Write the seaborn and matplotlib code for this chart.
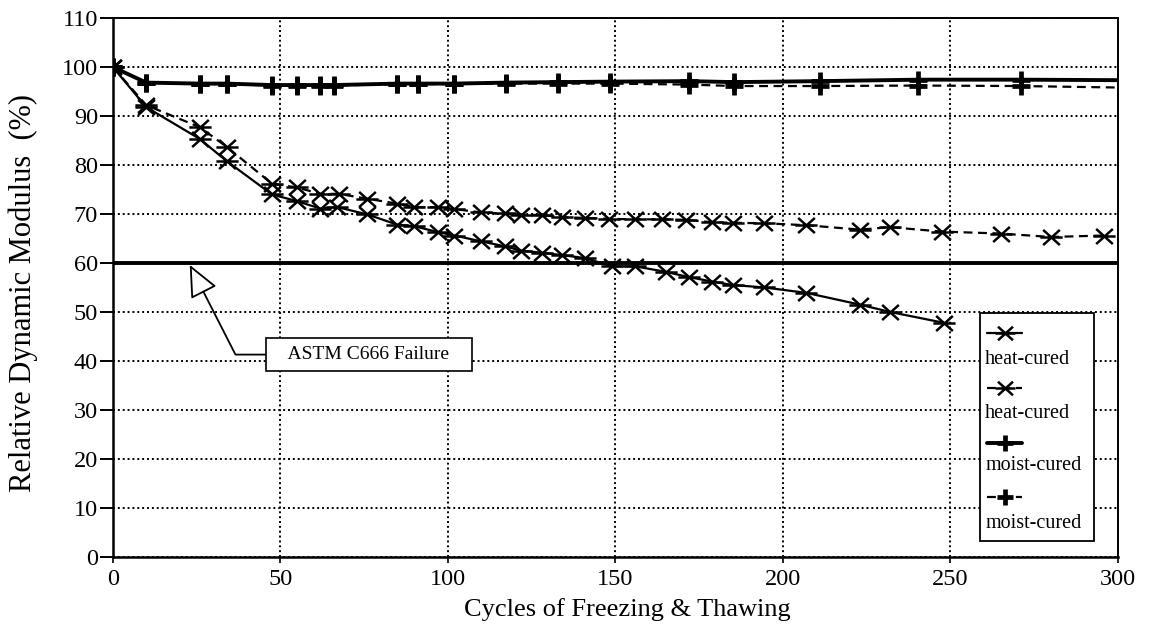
import numpy as np
import matplotlib
matplotlib.use("Agg")
import matplotlib.pyplot as plt
from matplotlib.path import Path
from matplotlib.patches import Rectangle
import seaborn as sns

# Freeze-thaw durability: relative dynamic modulus vs. number of cycles
heat_solid_cycles = [0, 10, 26, 34, 47.5, 55, 62, 67, 76, 85, 90, 97, 102, 110, 117,
                     122, 128, 134, 141, 149, 156, 165, 172, 179, 185, 194.5, 207,
                     223, 232, 248]
heat_solid_rdm = [100, 91.8, 85.3, 80.8, 74.0, 72.6, 71.1, 71.4, 69.9, 67.8, 67.5,
                  66.3, 65.6, 64.4, 63.4, 62.5, 62.1, 61.6, 61.0, 59.3, 59.3, 58.2,
                  57.1, 56.2, 55.5, 55.0, 53.9, 51.5, 50.0, 47.8]

heat_dash_cycles = [0, 10, 26, 34, 47.5, 55, 62, 67.5, 76, 85, 90, 97, 102, 110, 117,
                    122, 128, 134, 141, 148, 156, 164, 171, 179, 185, 194.5, 207,
                    223, 232, 247.5, 265, 280, 296]
heat_dash_rdm = [100, 92.2, 87.7, 83.7, 76.2, 75.4, 74.1, 74.1, 73.1, 72.1, 71.4,
                 71.4, 71.0, 70.3, 70.1, 69.8, 69.8, 69.3, 69.2, 69.0, 68.9, 68.9,
                 68.8, 68.3, 68.2, 68.1, 67.7, 66.8, 67.3, 66.4, 66.0, 65.3, 65.6]

moist_cycles = [0, 10, 26, 34, 47.5, 55, 62, 66, 85, 91, 102, 117.5, 133, 148.5,
                172, 185.5, 211, 240.5, 271, 300]
moist_solid_rdm = [100, 96.8, 96.6, 96.6, 96.3, 96.3, 96.3, 96.3, 96.6, 96.6, 96.6,
                   96.8, 96.9, 97.0, 97.1, 96.9, 97.1, 97.4, 97.4, 97.3]
moist_dash_rdm = [100, 96.8, 96.5, 96.5, 96.2, 96.2, 96.2, 96.2, 96.5, 96.5, 96.5,
                  96.6, 96.6, 96.6, 96.4, 96.1, 96.1, 96.2, 96.1, 95.8]

failure_limit = 60
legend_labels = ["heat-cured", "heat-cured", "moist-cured", "moist-cured"]
x_ticks = [0, 50, 100, 150, 200, 250, 300]
y_ticks = list(range(0, 111, 10))

sns.set_theme(style="white")
plt.rcParams["font.family"] = ["Liberation Serif", "DejaVu Serif"]
plt.rcParams["axes.edgecolor"] = "black"

# six-armed asterisk: horizontal bar plus two diagonals
star = Path([(-1, 0), (1, 0), (-0.75, -0.68), (0.75, 0.68), (-0.75, 0.68), (0.75, -0.68)],
            [Path.MOVETO, Path.LINETO, Path.MOVETO, Path.LINETO, Path.MOVETO, Path.LINETO])

fig = plt.figure(figsize=(11.5, 6.29), dpi=100)
ax = fig.add_axes([0.098, 0.1145, 0.874, 0.857])

dash = (0, (4, 2.5))
styles = [
    dict(x=heat_solid_cycles, y=heat_solid_rdm, ls="-", lw=1.6, marker=star, ms=16, mew=1.8,
         markevery=None),
    dict(x=heat_dash_cycles, y=heat_dash_rdm, ls=dash, lw=1.6, marker=star, ms=16, mew=1.8,
         markevery=None),
    dict(x=moist_cycles, y=moist_solid_rdm, ls="-", lw=2.8, marker="+", ms=13, mew=3.4,
         markevery=list(range(len(moist_cycles) - 1))),
    dict(x=moist_cycles, y=moist_dash_rdm, ls=dash, lw=1.6, marker="+", ms=13, mew=3.4,
         markevery=list(range(len(moist_cycles) - 1))),
]
for st in styles:
    sns.lineplot(x=st["x"], y=st["y"], ax=ax, color="black", linestyle=st["ls"],
                 linewidth=st["lw"], marker=st["marker"], markersize=st["ms"],
                 markeredgewidth=st["mew"], markeredgecolor="black",
                 markevery=st["markevery"], sort=False, estimator=None,
                 errorbar=None, zorder=4, clip_on=True)

ax.axhline(failure_limit, color="black", lw=2.8, zorder=3)

ax.set_xlim(0, 300)
ax.set_ylim(0, 110)
ax.set_xticks(x_ticks)
ax.set_yticks(y_ticks)
ax.grid(True, color="black", linestyle=(0, (1, 1.5)), linewidth=1.4)
for s in ax.spines.values():
    s.set_visible(True)
    s.set_color("black")
    s.set_linewidth(1.4)
ax.spines["left"].set_linewidth(1.8)
ax.spines["bottom"].set_linewidth(1.8)

ax.tick_params(axis="y", direction="out", length=9.5, width=1.4, pad=1,
               labelsize=17.5, colors="black", left=True)
ax.tick_params(axis="x", direction="out", length=4, width=1.2, pad=5,
               labelsize=17.5, colors="black", bottom=True)

ax.set_xlabel("Cycles of Freezing & Thawing", fontsize=19, color="black")
ax.xaxis.set_label_coords(0.512, -0.076)
ax.set_ylabel("Relative Dynamic Modulus  (%)", fontsize=22, color="black")
ax.yaxis.set_label_coords(-0.074, 0.49)

ax.annotate("   ASTM C666 Failure   ", xy=(23, 59.6), xytext=(76.5, 41.3),
            textcoords="data", ha="center", va="center", fontsize=14, color="black",
            bbox=dict(boxstyle="square,pad=0.42", fc="white", ec="black", lw=1.2),
            arrowprops=dict(arrowstyle="-|>,head_length=1.0,head_width=0.45",
                            fc="white", ec="black", lw=1.3, mutation_scale=20,
                            shrinkA=0, shrinkB=0,
                            connectionstyle="angle,angleA=0,angleB=117,rad=0"),
            zorder=6)

# legend box with each sample line above its label
ax.add_patch(Rectangle((0.863, 0.030), 0.113, 0.423, transform=ax.transAxes,
                       fc="white", ec="black", lw=1.3, zorder=7))
handle_rows = [0.416, 0.314, 0.2115, 0.111]
text_rows = [0.367, 0.267, 0.169, 0.063]
for st, hy, ty, lab in zip(styles, handle_rows, text_rows, legend_labels):
    ax.plot([0.870, 0.8875, 0.905], [hy, hy, hy], transform=ax.transAxes,
            color="black", linestyle=st["ls"], linewidth=st["lw"], marker=st["marker"],
            markersize=st["ms"] * 0.9, markeredgewidth=st["mew"], markevery=[1],
            clip_on=False, zorder=8)
    ax.text(0.868, ty, lab, transform=ax.transAxes, ha="left", va="center",
            fontsize=14.5, color="black", zorder=8)

fig.savefig("out.png", dpi=100, facecolor="white")
